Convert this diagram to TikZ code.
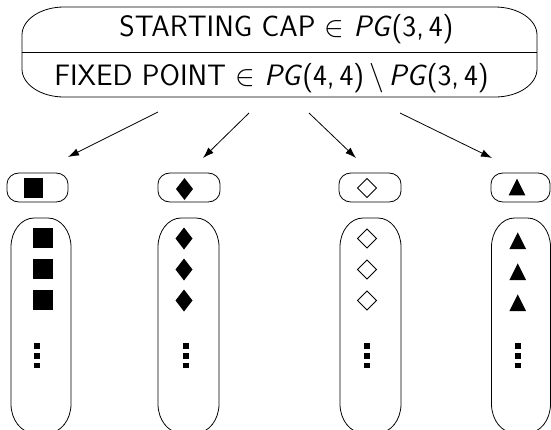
\RequirePackage{fix-cm}
\documentclass[tikz,border=0pt]{standalone}
\usepackage{amssymb}
\usetikzlibrary{arrows.meta}

% outline of a box node with elliptical corners: #1 node, #2 x radius, #3 y radius
\newcommand\capsuleframe[3]{%
  \draw ([xshift=#2]#1.north west) -- ([xshift=-#2]#1.north east)
    arc[start angle=90,end angle=0,x radius=#2,y radius=#3]
    -- ([yshift=#3]#1.south east)
    arc[start angle=0,end angle=-90,x radius=#2,y radius=#3]
    -- ([xshift=#2]#1.south west)
    arc[start angle=270,end angle=180,x radius=#2,y radius=#3]
    -- ([yshift=-#3]#1.north west)
    arc[start angle=180,end angle=90,x radius=#2,y radius=#3] -- cycle;}
% point marks, each centred on a named coordinate
\newcommand\squaremark[1]{\fill (#1) ++(-9.75,-9.75) rectangle ++(19.5,19.5);}
\newcommand\blackdiamond[1]{\fill (#1) ++(0,-11) -- ++(8.5,11) -- ++(-8.5,11) -- ++(-8.5,-11) -- cycle;}
\newcommand\whitediamond[1]{\draw[line width=0.9pt] (#1) ++(0,-9.5) -- ++(9.5,9.5) -- ++(-9.5,9.5) -- ++(-9.5,-9.5) -- cycle;}
\newcommand\blacktri[1]{\fill (#1) ++(0,-8.35) -- ++(8.35,16.7) -- ++(-16.7,0) -- cycle;}
\newcommand\dotcolumn[1]{%
  \foreach \dy in {0,9.8,19.6}{\fill (#1) ++(-2.9,{\dy-2.7}) rectangle ++(5.8,5.4);}}

\begin{document}
\begin{tikzpicture}[x=1pt,y=-1pt,line width=0.8pt,
  frame/.style={inner sep=0pt,outer sep=0pt,minimum width=#1},
  label/.style={anchor=base,inner sep=0pt,font=\sffamily\fontsize{29.5}{34}\selectfont},
  link/.style={-{Latex[length=11pt,width=7.5pt]},line width=0.8pt}]
\useasboundingbox (0,0) rectangle (551,429);

% header box with its two lines
\node[frame=515pt,minimum height=90pt] (head) at (279.5,52) {};
\capsuleframe{head}{42pt}{28pt}
\draw (head.west) -- (head.east);
\node[label] (capline) at (286.5,36.7) {STARTING CAP $\in$ \textit{PG}(3,\,4)};
\node[label] (pointline) at (271.5,85) {FIXED POINT $\in$ \textit{PG}(4,\,4)\,$\setminus$\,\textit{PG}(3,\,4)};

% small label boxes
\foreach \n/\x/\w in {1/37.5/61,2/189/62,3/370/62,4/520.5/59}{
  \node[frame=\w pt,minimum height=29pt] (tag\n) at (\x,187.5) {};
  \capsuleframe{tag\n}{12pt}{11pt}
}
% tall column boxes
\foreach \n/\x/\w in {1/41/60,2/188.5/61,3/370.5/61,4/521/59}{
  \node[frame=\w pt,minimum height=215pt] (col\n) at (\x,325.5) {};
  \capsuleframe{col\n}{23pt}{29pt}
}

% arrows from the header to the label boxes
\coordinate (from1) at (158,112);  \coordinate (to1) at (68,157);
\coordinate (from2) at (249,113);  \coordinate (to2) at (203,158);
\coordinate (from3) at (309,113);  \coordinate (to3) at (356,158);
\coordinate (from4) at (400,113);  \coordinate (to4) at (492,158);
\foreach \n in {1,...,4}{\draw[link] (from\n) -- (to\n);}

% marks in the label boxes
\coordinate (m1) at (33.5,188);   \squaremark{m1}
\coordinate (m2) at (184.5,189);  \blackdiamond{m2}
\coordinate (m3) at (367,188);    \whitediamond{m3}
\coordinate (m4) at (517,187);    \blacktri{m4}

% marks in the columns
\foreach \y [count=\k] in {238,269,300}{
  \coordinate (sq\k) at (43,\y);        \squaremark{sq\k}
  \coordinate (bd\k) at (184,{\y+0.5}); \blackdiamond{bd\k}
  \coordinate (wd\k) at (367,{\y+0.5}); \whitediamond{wd\k}
  \coordinate (tr\k) at (517.7,{\y+2.7}); \blacktri{tr\k}
}
\coordinate (dots1) at (37,346);    \dotcolumn{dots1}
\coordinate (dots2) at (185.7,346); \dotcolumn{dots2}
\coordinate (dots3) at (366.7,346); \dotcolumn{dots3}
\coordinate (dots4) at (517.7,346); \dotcolumn{dots4}
\end{tikzpicture}
\end{document}
